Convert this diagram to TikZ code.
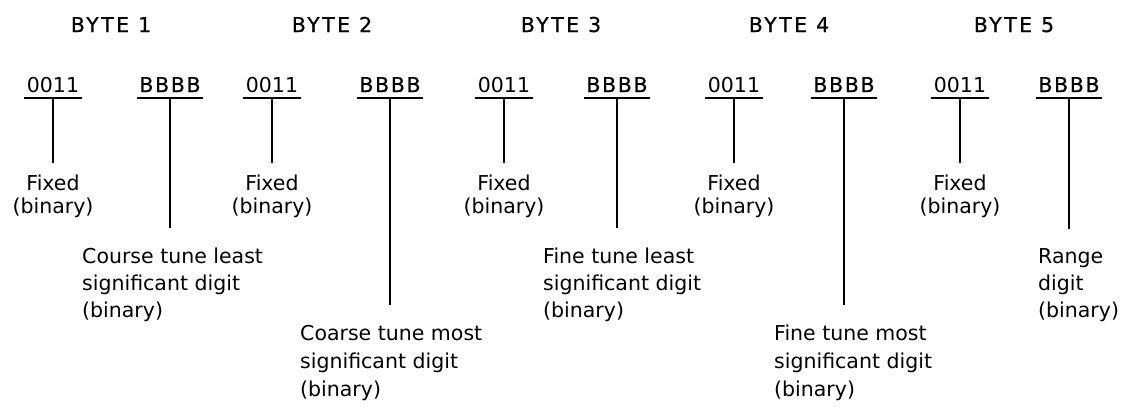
\documentclass[tikz,border=0pt]{standalone}
\usepackage{fontspec}
\setmainfont{DejaVu Sans}
\newfontfamily\titlefont[LetterSpace=12,FakeBold=0.5]{DejaVu Sans}
\newfontfamily\bbfont[LetterSpace=8,FakeBold=0.5]{DejaVu Sans}
\begin{document}
\begin{tikzpicture}[x=1pt,y=-1pt,
  title/.style={font=\titlefont\fontsize{20.5}{24}\selectfont, anchor=base, inner sep=0pt},
  dig/.style={font=\fontsize{20.5}{24}\selectfont, anchor=base, inner sep=0pt, text height=15pt, text depth=6pt, minimum width=58pt},
  bdig/.style={dig, font=\bbfont\fontsize{20.5}{24}\selectfont, minimum width=66pt},
  ul/.style={line width=2.4pt},
  conn/.style={line width=1.6pt},
  fixedlbl/.style={font=\fontsize{20.5}{23}\selectfont, align=center, anchor=north, inner sep=0pt},
  lbl/.style={font=\fontsize{20.5}{27}\selectfont, align=left, anchor=north west, inner sep=0pt},
  lbllow/.style={lbl, font=\fontsize{20.5}{28}\selectfont}]
\useasboundingbox[fill=white] (0,0) rectangle (1125,407);
% titles
\node[title] (t1) at (111,32) {BYTE 1};
\node[title] (t2) at (332,32) {BYTE 2};
\node[title] (t3) at (561,32) {BYTE 3};
\node[title] (t4) at (789,32) {BYTE 4};
\node[title] (t5) at (1014,32) {BYTE 5};
% digit groups
\foreach \i/\ax/\bx in {1/53/170, 2/272/390, 3/504/617, 4/734/844, 5/960/1069}{
  \node[dig] (a\i) at (\ax,92) {0011};
  \node[bdig] (b\i) at (\bx,92) {BBBB};
  \draw[ul] (a\i.south west) -- (a\i.south east);
  \draw[ul] (b\i.south west) -- (b\i.south east);
  \node[fixedlbl] (f\i) at (\ax,174.5) {Fixed\\(binary)};
  \draw[conn, shorten >=12pt] (a\i.south) -- (f\i.north);
}
% descriptions
\node[lbl] (d1) at (82,248) {Course tune least\\significant digit\\(binary)};
\node[lbllow] (d2) at (300,325) {Coarse tune most\\significant digit\\(binary)};
\node[lbl] (d3) at (543,248) {Fine tune least\\significant digit\\(binary)};
\node[lbllow] (d4) at (774,325) {Fine tune most\\significant digit\\(binary)};
\node[lbl] (d5) at (1038,248.5) {Range\\digit\\(binary)};
\draw[conn, shorten >=20pt] (b1.south) -- (b1.south |- d1.north);
\draw[conn, shorten >=20pt] (b2.south) -- (b2.south |- d2.north);
\draw[conn, shorten >=20pt] (b3.south) -- (b3.south |- d3.north);
\draw[conn, shorten >=20pt] (b4.south) -- (b4.south |- d4.north);
\draw[conn, shorten >=20pt] (b5.south) -- (b5.south |- d5.north);
\end{tikzpicture}
\end{document}
